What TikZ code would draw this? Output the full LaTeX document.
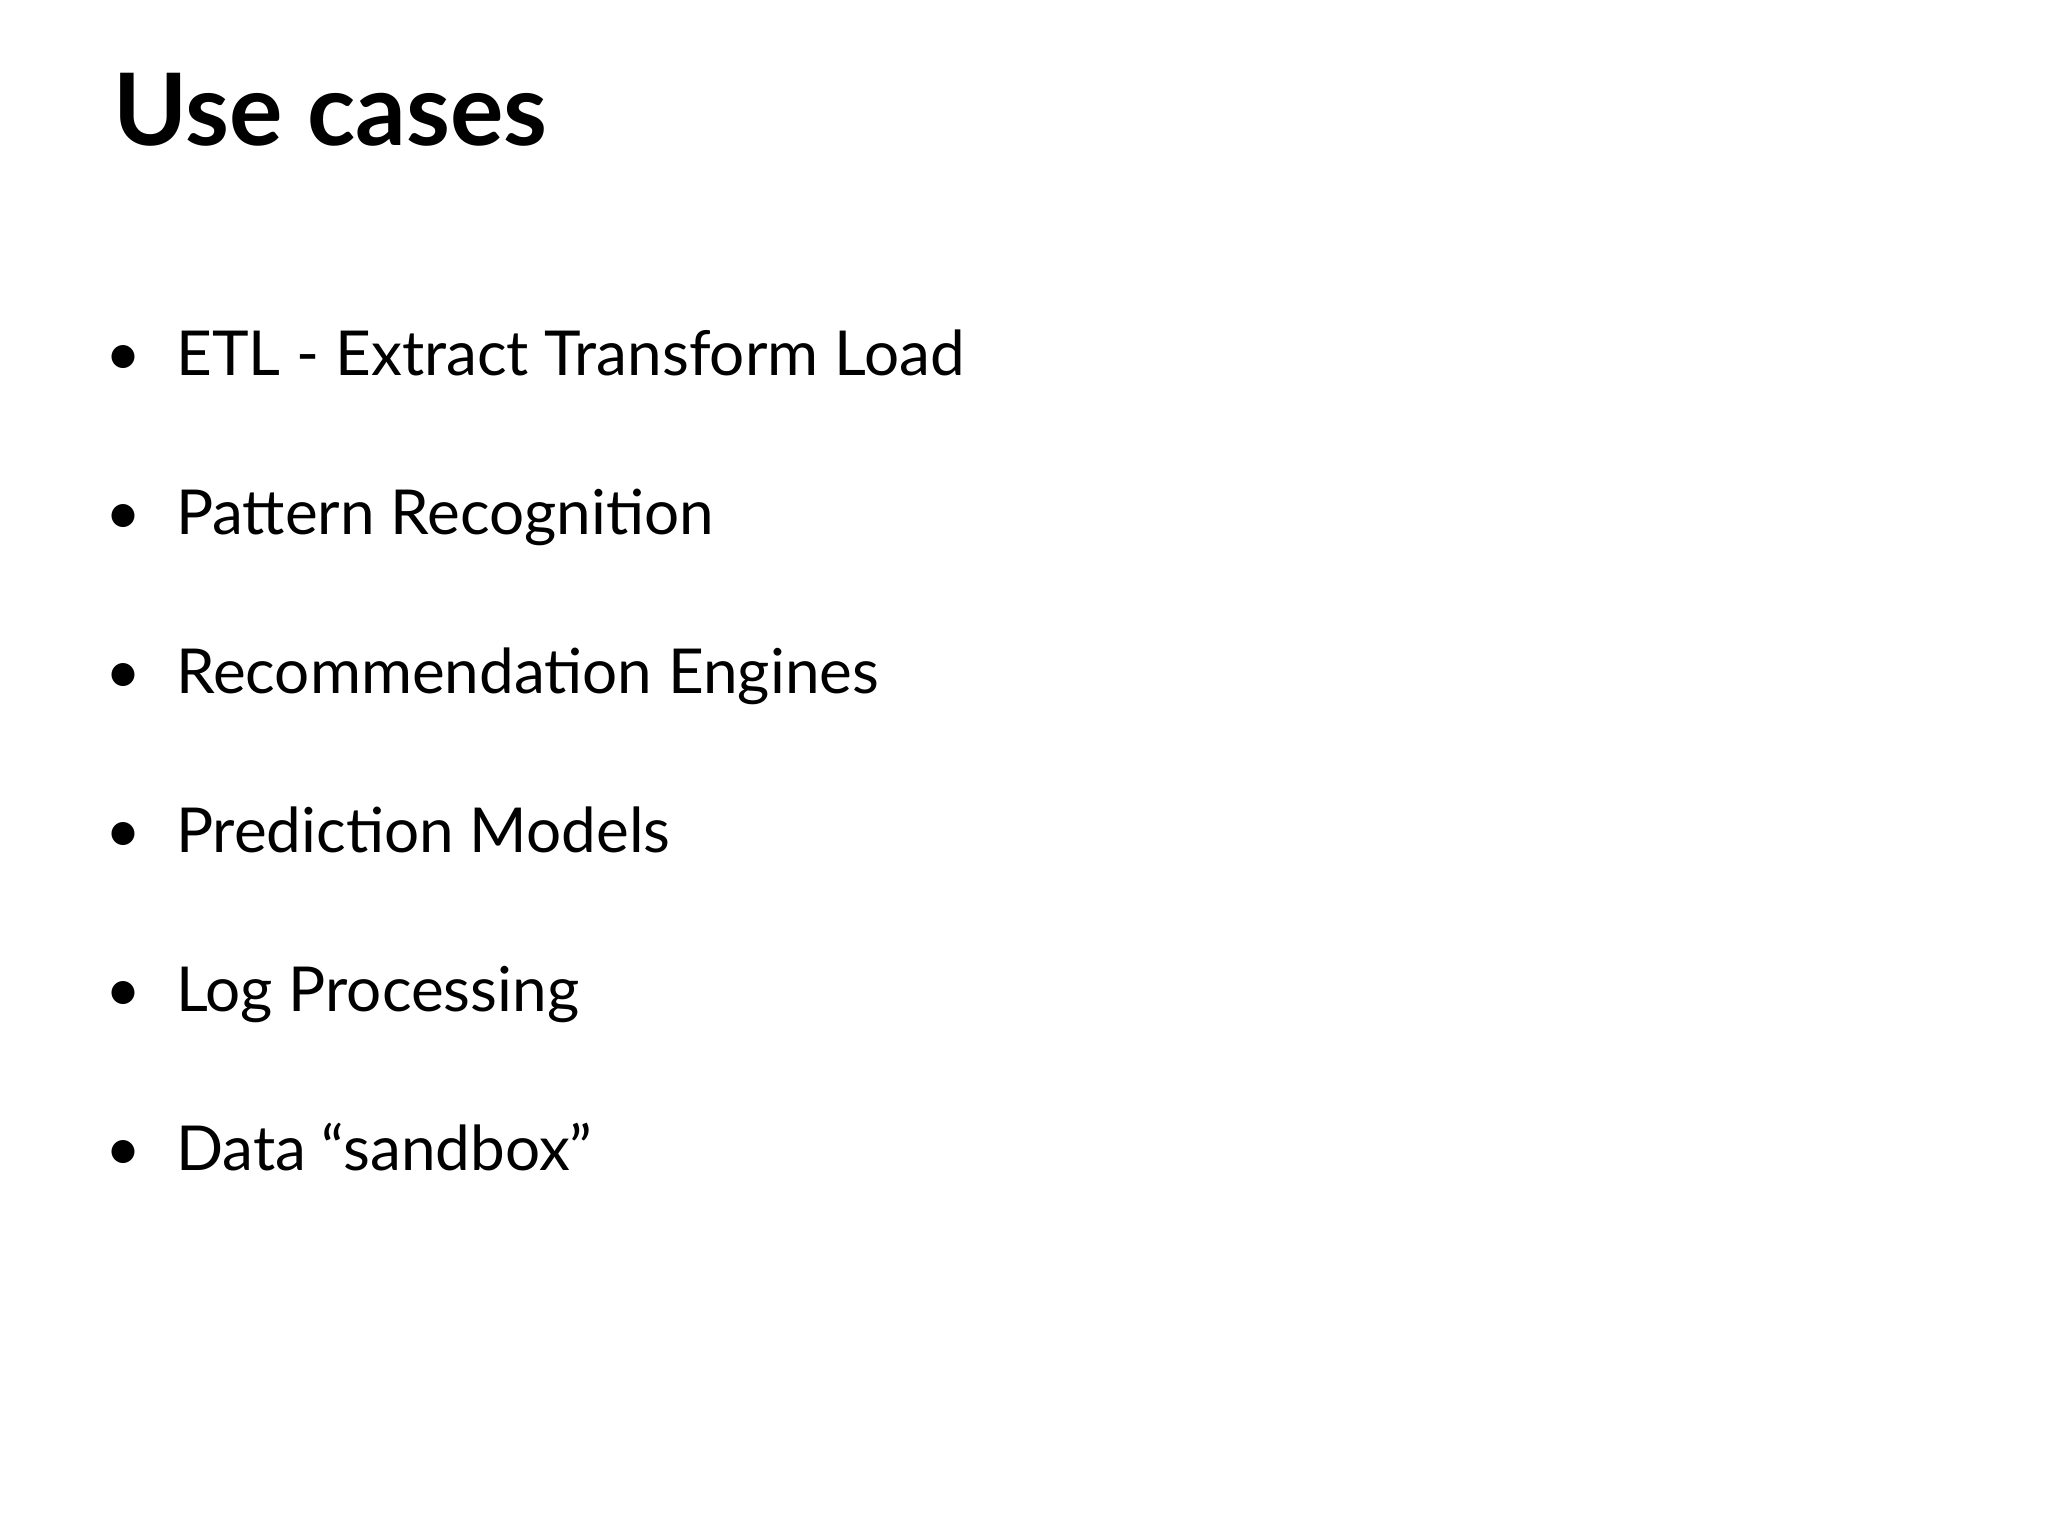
\documentclass[tikz,border=0pt]{standalone}
\usepackage{fontspec}
\setmainfont{Lato}
\begin{document}
\begin{tikzpicture}[x=1pt,y=-1pt,
  item/.style={anchor=base west,inner sep=0pt,font=\fontsize{62}{70}\selectfont},
  bul/.style={anchor=base,inner sep=0pt,font=\fontsize{62}{70}\selectfont}]
\useasboundingbox[fill=white] (0,0) rectangle (2048,1536);
\node[anchor=base west,inner sep=0pt,font=\fontsize{100}{110}\selectfont\bfseries] (title) at (113,146) {Use cases};
\foreach \t [count=\i] in {ETL - Extract Transform Load,Pattern Recognition,Recommendation Engines,Prediction Models,Log Processing,Data “sandbox”}{
  \node[bul] (b\i) at (123,{375+159*(\i-1)}) {•};
  \node[item] (t\i) at (176,{375+159*(\i-1)}) {\t};
}
\end{tikzpicture}
\end{document}
